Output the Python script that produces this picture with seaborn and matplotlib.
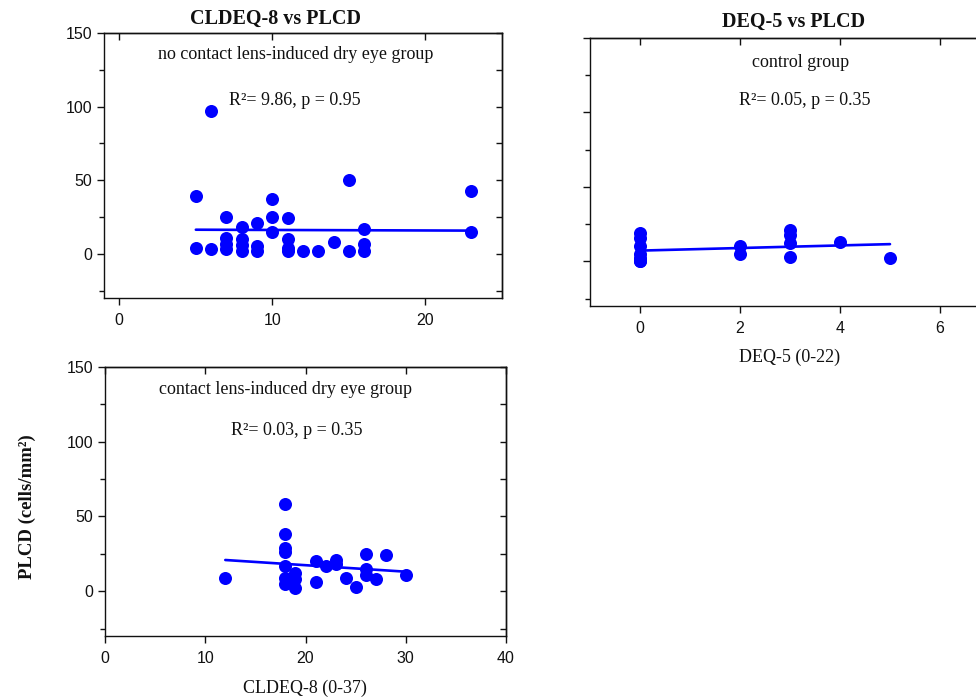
import matplotlib
matplotlib.use("Agg")
import matplotlib.pyplot as plt
import seaborn as sns
import pandas as pd

# ---------------- data ----------------
nocl_cldeq8 = [5, 5, 6, 6, 7, 7, 7, 7, 8, 8, 8, 8, 9, 9, 9, 10, 10, 10,
               11, 11, 11, 11, 12, 13, 14, 15, 15, 16, 16, 16, 23, 23]
nocl_plcd = [39, 4, 97, 3, 25, 11, 7, 3, 18, 10, 6, 2, 21, 5, 2, 37, 25, 15,
             24, 10, 4, 2, 2, 2, 8, 50, 2, 17, 7, 2, 43, 15]

ctrl_deq5 = [0, 0, 0, 0, 0, 0, 0, 0, 2, 2, 3, 3, 3, 3, 4, 5]
ctrl_plcd = [19, 16, 10, 5, 2, 1, 0, 0, 10, 5, 21, 18, 12, 3, 13, 2]

cl_cldeq8 = [12, 18, 18, 18, 18, 18, 18, 18, 19, 19, 19, 21, 21, 22, 23, 23,
             24, 25, 26, 26, 26, 27, 28, 30]
cl_plcd = [9, 58, 38, 29, 26, 17, 9, 5, 12, 8, 2, 20, 6, 17, 21, 18,
           9, 3, 25, 15, 11, 8, 24, 11]

titles = ["CLDEQ-8 vs PLCD", "DEQ-5 vs PLCD"]
groups = ["no contact lens-induced dry eye group", "control group",
          "contact lens-induced dry eye group"]
stats = ["R\u00b2= 9.86, p = 0.95", "R\u00b2= 0.05, p = 0.35", "R\u00b2= 0.03, p = 0.35"]
xlabel_deq = "DEQ-5 (0-22)"
xlabel_cl = "CLDEQ-8 (0-37)"
ylabel = "PLCD (cells/mm\u00b2)"

y_major = [0, 50, 100, 150]
y_minor = [-25, 25, 75, 125]
y_all = [-25, 0, 25, 50, 75, 100, 125, 150]
x1_ticks = [0, 10, 20]
x2_ticks = [0, 2, 4, 6]
x3_ticks = [0, 10, 20, 30, 40]

# ---------------- style ----------------
sns.set_style("ticks")
SERIF = ["Liberation Serif", "DejaVu Serif"]
SANS = ["Liberation Sans", "DejaVu Sans"]
plt.rcParams["font.family"] = SANS
plt.rcParams["axes.linewidth"] = 1.0
plt.rcParams["axes.edgecolor"] = "#111111"
plt.rcParams["xtick.color"] = "#111111"
plt.rcParams["ytick.color"] = "#111111"

BLUE = "#0000ff"
INK = "#111111"

fig = plt.figure(figsize=(9.76, 6.99), dpi=100)
W, H = 976.0, 699.0


def box(l, t, r, b):
    return [l / W, 1 - b / H, (r - l) / W, (b - t) / H]


ax1 = fig.add_axes(box(104, 33, 502, 298))
ax2 = fig.add_axes(box(590, 38, 990, 306))
ax3 = fig.add_axes(box(105, 367, 506, 636))

df1 = pd.DataFrame({"x": nocl_cldeq8, "y": nocl_plcd})
df2 = pd.DataFrame({"x": ctrl_deq5, "y": ctrl_plcd})
df3 = pd.DataFrame({"x": cl_cldeq8, "y": cl_plcd})

for ax, df in [(ax1, df1), (ax2, df2), (ax3, df3)]:
    sns.regplot(data=df, x="x", y="y", ax=ax, ci=None, color=BLUE,
                scatter_kws={"s": 88, "alpha": 1, "linewidths": 0, "zorder": 3},
                line_kws={"lw": 1.9, "zorder": 4})
    ax.set_xlabel("")
    ax.set_ylabel("")
    ax.set_ylim(-30, 150)
    ax.set_yticks(y_major)
    ax.set_yticks(y_minor, minor=True)
    ax.tick_params(axis="both", which="major", direction="out", length=5,
                   width=1, labelsize=11.5, right=False, top=False)
    ax.tick_params(axis="y", which="minor", direction="out", length=3.8,
                   width=1, right=False)
    ax.tick_params(axis="x", which="major", pad=6)
    for sp in ax.spines.values():
        sp.set_visible(True)
        sp.set_linewidth(1.0)

ax1.set_xlim(-1, 25)
ax1.set_xticks(x1_ticks)
ax2.set_xlim(-1, 7)
ax2.set_xticks(x2_ticks)
ax2.tick_params(axis="y", labelleft=False)
ax3.set_xlim(0, 40)
ax3.set_xticks(x3_ticks)

# inward ticks on right and top
for ax, xt in [(ax1, x1_ticks), (ax2, x2_ticks), (ax3, x3_ticks)]:
    sy = ax.secondary_yaxis("right")
    sy.set_yticks(y_all)
    sy.tick_params(axis="y", direction="in", length=4.5, width=1,
                   labelright=False)
    sy.spines["right"].set_linewidth(1.0)
    sx = ax.secondary_xaxis("top")
    sx.set_xticks(xt)
    sx.tick_params(axis="x", direction="in", length=5, width=1,
                   labeltop=False)
    sx.spines["top"].set_linewidth(1.0)

# titles
ax1.set_title(titles[0], x=0.43, pad=6.5, fontsize=14.5, fontweight="bold",
              family=SERIF, color=INK)
ax2.set_title(titles[1], x=0.51, pad=8, fontsize=14.5, fontweight="bold",
              family=SERIF, color=INK)

# annotations
ann = dict(ha="center", va="baseline", fontsize=13, family=SERIF, color=INK)
ax1.text(0.482, 0.902, groups[0], transform=ax1.transAxes, **ann)
ax1.text(0.480, 0.728, stats[0], transform=ax1.transAxes, **ann)
ax2.text(0.527, 0.893, groups[1], transform=ax2.transAxes, **ann)
ax2.text(0.537, 0.750, stats[1], transform=ax2.transAxes, **ann)
ax3.text(0.450, 0.900, groups[2], transform=ax3.transAxes, **ann)
ax3.text(0.478, 0.747, stats[2], transform=ax3.transAxes, **ann)

# axis labels
ax2.set_xlabel(xlabel_deq, fontsize=13, family=SERIF, color=INK)
ax2.xaxis.set_label_coords(0.5, -0.16)
ax3.set_xlabel(xlabel_cl, fontsize=13, family=SERIF, color=INK)
ax3.xaxis.set_label_coords(0.498, -0.162)
ax3.set_ylabel(ylabel, fontsize=13.5, fontweight="bold", family=SERIF,
               color=INK)
ax3.yaxis.set_label_coords(-0.172, 0.48)

fig.savefig("out.png", dpi=100)
